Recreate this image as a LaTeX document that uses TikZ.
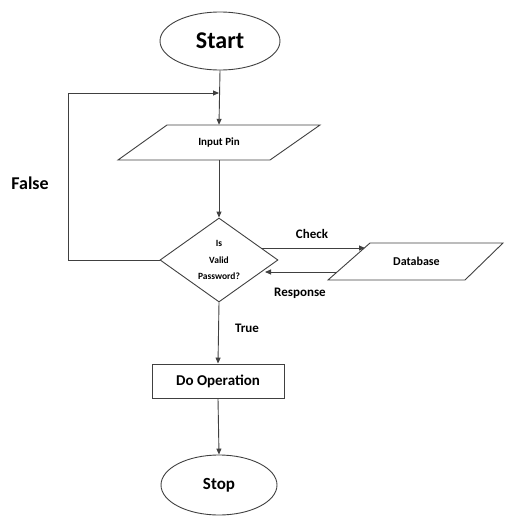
\documentclass[tikz,border=0pt]{standalone}
\usepackage{fontspec}
\setmainfont{Carlito}
\usetikzlibrary{shapes.geometric,arrows.meta}
\begin{document}
\begin{tikzpicture}[x=1pt,y=-1pt,
  ln/.style={draw=black!75, line width=0.9pt},
  arr/.style={ln,-{Triangle[length=6pt,width=5pt]}},
  term/.style={ellipse, ln, inner sep=0pt},
  ghost/.style={rectangle, inner sep=0pt},
  lbl/.style={font=\bfseries\fontsize{13}{15}\selectfont}]
\useasboundingbox (0,0) rectangle (505,517);
% nodes
\node[term, minimum width=120pt, minimum height=58pt, font=\bfseries\fontsize{24}{26}\selectfont] (start) at (220,41) {Start};
\node[ghost, minimum width=100pt, minimum height=35pt, font=\bfseries\fontsize{11}{13}\selectfont] (inp) at (219,142.5) {Input Pin};
\draw[ln] (167,125) -- (320,125) -- (270,160) -- (118,160) -- cycle;
\node[diamond, ln, minimum width=118pt, minimum height=84pt, inner sep=0pt, align=center, font=\bfseries\fontsize{9.5}{16.5}\selectfont] (dec) at (219,260) {Is\\Valid\\Password?};
\node[ghost, minimum width=90pt, minimum height=37pt, font=\bfseries\fontsize{12}{14}\selectfont] (db) at (416.5,261.5) {Database};
\draw[ln] (370,243) -- (503,243) -- (465,280) -- (328,280) -- cycle;
\node[rectangle, ln, minimum width=132pt, minimum height=34pt, inner sep=0pt, font=\bfseries\fontsize{15}{17}\selectfont] (op) at (218,381) {Do Operation};
\node[term, minimum width=116pt, minimum height=60pt, font=\bfseries\fontsize{17}{19}\selectfont] (stop) at (219,485) {Stop};
% helper coordinates
\coordinate (lp) at (68,93);
\coordinate (junc) at (219,93);
\coordinate (chkS) at (261,248);
\coordinate (chkE) at (365,248);
\coordinate (resS) at (336,272);
\coordinate (resE) at (265,272);
% connectors
\draw[arr] (start.south) -- (inp.north);
\draw[arr] (inp.south) -- (dec.north);
\draw[arr] (dec.west) -| (lp) -- (junc);
\draw[arr] (chkS) -- (chkE);
\draw[arr] (resS) -- (resE);
\draw[arr] (dec.south) -- (op.north);
\draw[arr] (op.south) -- (stop.north);
% labels
\node[font=\bfseries\fontsize{18}{20}\selectfont] (lfalse) at (30,183) {False};
\node[lbl] (lcheck) at (312,234) {Check};
\node[lbl] (lresp) at (300,293) {Response};
\node[lbl] (ltrue) at (247,328) {True};
\end{tikzpicture}
\end{document}
